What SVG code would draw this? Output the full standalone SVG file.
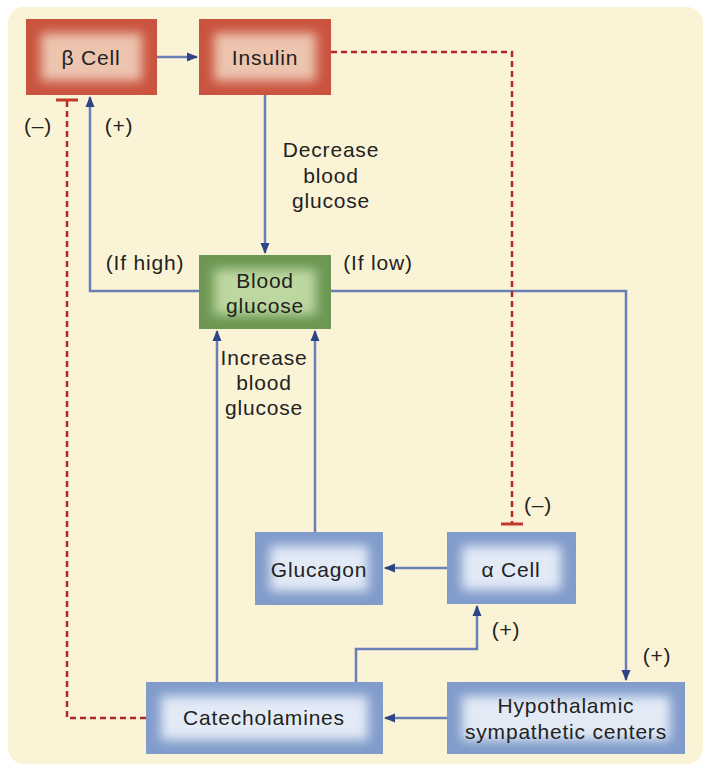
<svg xmlns="http://www.w3.org/2000/svg" width="712" height="766" viewBox="0 0 712 766">
<defs>
<filter id="soft" x="-30%" y="-40%" width="160%" height="180%"><feGaussianBlur stdDeviation="5.5"/></filter>
<marker id="arr" markerWidth="12" markerHeight="10" refX="10" refY="5" orient="auto" markerUnits="userSpaceOnUse"><path d="M0,0.5 L11,5 L0,9.5 Z" fill="#2E4486"/></marker>
<marker id="tee" markerWidth="6" markerHeight="24" refX="3" refY="12" orient="auto" markerUnits="userSpaceOnUse"><rect x="1.5" y="1" width="3" height="22" fill="#C0392B"/></marker>
<style>
text{font-family:"Liberation Sans",Arial,sans-serif;font-size:21px;fill:#222;letter-spacing:0.8px;text-anchor:middle}
.red .o{fill:#C9533F}.red .i{fill:#EDC4AE}
.grn .o{fill:#6C9853}.grn .i{fill:#BDD7A0}
.blu .o{fill:#819CCB}.blu .i{fill:#E2EAF6}
.i{filter:url(#soft)}
.c{fill:none;stroke:#6A7FB6;stroke-width:2.5}
.d{fill:none;stroke:#B3262A;stroke-width:2.5;stroke-dasharray:6 4}
</style>
</defs>
<rect x="8" y="7" width="695" height="757" rx="16" fill="#FBF3D6"/>
<g id="connectors">
<path class="c" d="M157,57 H197" marker-end="url(#arr)"/>
<path class="c" d="M265,95 V253" marker-end="url(#arr)"/>
<path class="c" d="M199,291 H90 V97" marker-end="url(#arr)"/>
<path class="c" d="M331,291 H626 V680" marker-end="url(#arr)"/>
<path class="c" d="M217,682 V331" marker-end="url(#arr)"/>
<path class="c" d="M315,532 V331" marker-end="url(#arr)"/>
<path class="c" d="M447,568 H385" marker-end="url(#arr)"/>
<path class="c" d="M447,718 H385" marker-end="url(#arr)"/>
<path class="c" d="M356,682 V649 H477 V606" marker-end="url(#arr)"/>
<path class="d" d="M331,52 H512 V524" marker-end="url(#tee)"/>
<path class="d" d="M146,718 H67 V100" marker-end="url(#tee)"/>
</g>
<g id="beta" class="red"><rect class="o" x="26" y="19" width="131" height="76"/><rect class="i" x="41" y="33" width="101" height="48"/><text x="91" y="65">β Cell</text></g>
<g id="insulin" class="red"><rect class="o" x="199" y="19" width="132" height="76"/><rect class="i" x="214" y="33" width="102" height="48"/><text x="265" y="65">Insulin</text></g>
<g id="bloodglucose" class="grn"><rect class="o" x="199" y="255" width="132" height="74"/><rect class="i" x="214" y="269" width="102" height="46"/><text x="265" y="288">Blood</text><text x="265" y="313">glucose</text></g>
<g id="glucagon" class="blu"><rect class="o" x="255" y="532" width="128" height="73"/><rect class="i" x="270" y="546" width="98" height="45"/><text x="319" y="577">Glucagon</text></g>
<g id="alpha" class="blu"><rect class="o" x="447" y="532" width="129" height="72"/><rect class="i" x="462" y="546" width="99" height="44"/><text x="511" y="577">α Cell</text></g>
<g id="catecholamines" class="blu"><rect class="o" x="146" y="682" width="237" height="72"/><rect class="i" x="161" y="696" width="207" height="44"/><text x="264" y="725">Catecholamines</text></g>
<g id="hypothalamic" class="blu"><rect class="o" x="447" y="682" width="238" height="72"/><rect class="i" x="462" y="696" width="208" height="44"/><text x="566" y="713">Hypothalamic</text><text x="566" y="739">sympathetic centers</text></g>
<g id="labels">
<text x="38" y="133">(–)</text>
<text x="119" y="133">(+)</text>
<text x="331" y="157">Decrease</text><text x="331" y="183">blood</text><text x="331" y="208">glucose</text>
<text x="145" y="270">(If high)</text>
<text x="378" y="270">(If low)</text>
<text x="264" y="365">Increase</text><text x="264" y="390">blood</text><text x="264" y="415">glucose</text>
<text x="538" y="512">(–)</text>
<text x="506" y="637">(+)</text>
<text x="657" y="663">(+)</text>
</g>
</svg>
